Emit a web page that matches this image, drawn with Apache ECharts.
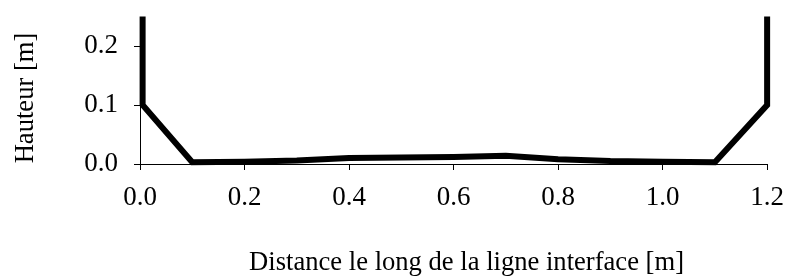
<!DOCTYPE html>
<html>
<head>
<meta charset="utf-8">
<script src="https://cdn.jsdelivr.net/npm/echarts@6/dist/echarts.min.js"></script>
<style>html,body{margin:0;padding:0;background:#fff}#c{width:787px;height:280px}</style>
</head>
<body>
<div id="c"></div>
<script>
const distance = [0.005, 0.005, 0.1, 0.2, 0.3, 0.4, 0.5, 0.6, 0.7, 0.8, 0.9, 1.0, 1.1, 1.2, 1.2];
const hauteur  = [0.25, 0.1, 0.003, 0.004, 0.006, 0.01, 0.011, 0.012, 0.014, 0.008, 0.005, 0.004, 0.003, 0.1, 0.25];
const xTitle = 'Distance le long de la ligne interface [m]';
const yTitle = 'Hauteur [m]';

const chart = echarts.init(document.getElementById('c'));
const font = '"Liberation Serif", "DejaVu Serif", serif';
chart.setOption({
  animation: false,
  grid: { left: 140, right: 19, top: 46, bottom: 116 },
  xAxis: {
    type: 'value', min: 0, max: 1.2, interval: 0.2,
    name: xTitle, nameLocation: 'middle', nameGap: 86,
    nameTextStyle: { fontFamily: font, fontSize: 26.6, color: '#000', padding: [0, 0, 0, 26] },
    axisLine: { show: true, lineStyle: { color: '#000', width: 1 } },
    axisTick: { show: true, inside: false, length: 6, lineStyle: { color: '#000' } },
    axisLabel: { fontFamily: font, fontSize: 27, color: '#000', margin: 20, formatter: v => v.toFixed(1) },
    splitLine: { show: false }
  },
  yAxis: {
    type: 'value', min: 0, max: 0.2, interval: 0.1,
    name: yTitle, nameLocation: 'middle', nameGap: 100,
    nameTextStyle: { fontFamily: font, fontSize: 26.6, color: '#000', padding: [0, 0, 0, 14] },
    axisLine: { show: true, lineStyle: { color: '#000', width: 1 } },
    axisTick: { show: true, inside: false, length: 6, lineStyle: { color: '#000' } },
    axisLabel: { fontFamily: font, fontSize: 27, color: '#000', margin: 22, padding: [4, 0, 0, 0], formatter: v => v.toFixed(1) },
    splitLine: { show: false }
  },
  series: [{
    type: 'line',
    data: distance.map((d, i) => [d, hauteur[i]]),
    showSymbol: false,
    clip: false,
    lineStyle: { color: '#000', width: 6, join: 'miter', cap: 'butt' }
  }]
});
</script>
</body>
</html>
